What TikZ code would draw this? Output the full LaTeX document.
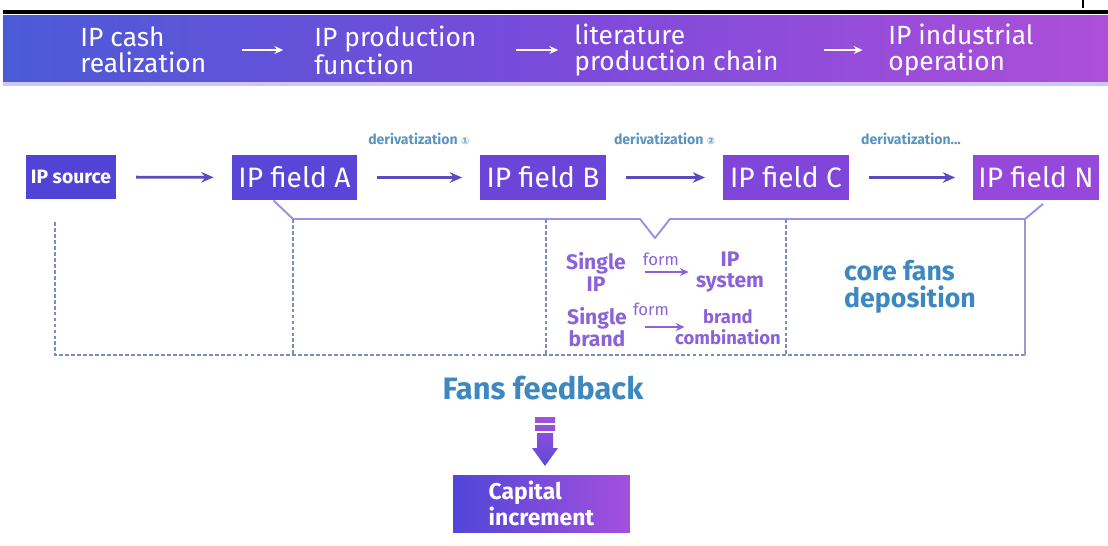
\documentclass[tikz,border=0pt]{standalone}
\usepackage{fontspec}
\setmainfont{Fira Sans}
\newfontfamily\circfont{DejaVu Sans}
\usetikzlibrary{arrows.meta}
\definecolor{bannerL}{HTML}{4B5BD7}
\definecolor{bannerM}{HTML}{7A4ADB}
\definecolor{bannerR}{HTML}{AD4FD9}
\definecolor{bannerEdge}{HTML}{CFC6F2}
\definecolor{srcfill}{HTML}{5143D6}
\definecolor{fillA}{HTML}{5946D8}
\definecolor{fillB}{HTML}{6B45D8}
\definecolor{fillC}{HTML}{7F46D9}
\definecolor{fillN}{HTML}{9648DA}
\definecolor{arrowpurple}{HTML}{5B4BBE}
\definecolor{derivblue}{HTML}{5A94C0}
\definecolor{bracketlav}{HTML}{9C90E6}
\definecolor{dashgray}{HTML}{7890B8}
\definecolor{edgegray}{HTML}{9C98CC}
\definecolor{formpurple}{HTML}{8C62D8}
\definecolor{fansblue}{HTML}{3D88BE}
\definecolor{capL}{HTML}{5046D8}
\definecolor{capR}{HTML}{A450DC}
\definecolor{downtop}{HTML}{A552E0}
\definecolor{downbot}{HTML}{5C48D8}
\begin{document}
\begin{tikzpicture}[x=0.02cm, y=-0.02cm, >={Stealth[length=7pt,width=6pt]}, every node/.style={inner sep=0pt}]
	\tikzstyle{bantext} = [text=white, align=left, anchor=west, font=\fontsize{15}{14.7}\selectfont]
	\tikzstyle{banarrow} = [->, white, line width=1.1pt, >={Stealth[length=5pt,width=4.5pt]}]
	\tikzstyle{fieldbox} = [text=white, minimum width=2.52cm, minimum height=0.9cm, font=\fontsize{16}{18}\selectfont]
	\tikzstyle{srcbox} = [fill=srcfill, text=white, minimum width=1.82cm, minimum height=0.88cm, font=\bfseries\fontsize{11}{13}\selectfont]
	\tikzstyle{fieldarrow} = [->, arrowpurple, line width=1.6pt, shorten <=11pt, shorten >=10pt]
	\tikzstyle{derivlabel} = [text=derivblue, font=\bfseries\fontsize{8}{9}\selectfont]
	\tikzstyle{dashline} = [dashgray, line width=1pt, dash pattern=on 2.2pt off 1.2pt]
	\tikzstyle{coltext} = [text=formpurple, align=center, font=\bfseries\fontsize{12}{12.3}\selectfont]
	\tikzstyle{formarrow} = [->, formpurple, line width=0.9pt, >={Stealth[length=5pt,width=4.5pt]}]
	\tikzstyle{formlabel} = [text=formpurple, font=\fontsize{9.5}{10}\selectfont]
	
	\useasboundingbox (0,0) rectangle (1108,545);
	
	% banner
	\draw[line width=1.8pt] (3,12) -- (1108,12);
	\draw[line width=0.6pt] (1083,0) -- (1083,8);
	\shade[left color=bannerL, right color=bannerR, middle color=bannerM] (3,15) rectangle (1108,82);
	\fill[bannerEdge] (3,82) rectangle (1108,86);
	
	\node[bantext] (cash) at (80,50) {IP cash\\realization};
	\node[bantext] (func) at (314,50) {IP production\\function};
	\node[bantext] (chain) at (574,50) {literature\\production chain};
	\node[bantext] (oper) at (888,50) {IP industrial\\operation};
	
	\draw[banarrow, shorten <=20pt, shorten >=17.5pt] (cash) -- (func);
	\draw[banarrow, shorten <=22.5pt, shorten >=9pt] (func) -- (chain);
	\draw[banarrow, shorten <=25.5pt, shorten >=14.5pt] (chain) -- (oper);
	
	% field row
	\node[srcbox] (source) at (71,177) {IP source};
	\node[fieldbox, fill=fillA] (fielda) at (294.5,177.5) {IP field A};
	\node[fieldbox, fill=fillB] (fieldb) at (543,177.5) {IP field B};
	\node[fieldbox, fill=fillC] (fieldc) at (786,177.5) {IP field C};
	\node[fieldbox, fill=fillN] (fieldn) at (1036,177.5) {IP field N};
	
	\draw[fieldarrow] (source) -- (fielda);
	\draw[fieldarrow] (fielda) -- node[derivlabel, above=18pt] {derivatization \circfont\fontsize{5.5}{6}\selectfont①} (fieldb);
	\draw[fieldarrow] (fieldb) -- node[derivlabel, above=18pt] {derivatization \circfont\fontsize{5.5}{6}\selectfont②} (fieldc);
	\draw[fieldarrow] (fieldc) -- node[derivlabel, above=18pt] {derivatization...} (fieldn);
	
	% bracket
	\draw[bracketlav, line width=1.1pt, line join=round] ([xshift=-12pt]fielda.south) -- (293,219) -- (640,219) -- (655,238) -- (670,219) -- (1025,219) -- ([xshift=4pt,yshift=-2pt]fieldn.south);
	
	% dashed frame
	\draw[dashline] (55,222) -- (55,355) -- (1025,355);
	\draw[dashline] (293,219) -- (293,355);
	\draw[dashline] (546,219) -- (546,355);
	\draw[dashline] (786,219) -- (786,355);
	\draw[edgegray, line width=0.9pt] (1025,219) -- (1025,355);
	
	% single -> system
	\node[coltext] (singleip) at (596,272) {Single\\IP};
	\node[coltext] (ipsystem) at (730,272) {IP\\system};
	\node[coltext] (singlebrand) at (597,327) {Single\\brand};
	\node[coltext, font=\bfseries\fontsize{10.5}{12}\selectfont] (brandcomb) at (728,327) {brand\\combination};
	
	\draw[formarrow, shorten <=10.5pt, shorten >=4pt] (singleip) -- node[formlabel, above=3pt] {form} (ipsystem);
	\draw[formarrow, shorten <=10pt, shorten >=-5.5pt] (singlebrand) -- node[formlabel, above=6pt] {form} (brandcomb);
	
	\node[text=fansblue, align=left, font=\bfseries\fontsize{15.2}{15.6}\selectfont] (corefans) at (910,287) {core fans\\deposition};
	
	% feedback
	\node[text=fansblue, font=\bfseries\fontsize{17.6}{20}\selectfont] (fans) at (543,388) {Fans feedback};
	\node[left color=capL, right color=capR, text=white, align=left, minimum width=3.54cm, minimum height=1.14cm, font=\bfseries\fontsize{13}{13}\selectfont] (capital) at (541.5,503.5) {Capital\\increment};
	
	\shade[top color=downtop, bottom color=downtop!85!downbot] (535,417) rectangle (555,422);
	\shade[top color=downtop!85!downbot, bottom color=downtop!70!downbot] (535,425) rectangle (555,430);
	\shade[top color=downtop!65!downbot, bottom color=downbot] (537,433) -- (553,433) -- (553,448) -- (558,448) -- (545,466) -- (532,448) -- (537,448) -- cycle;
\end{tikzpicture}
\end{document}
